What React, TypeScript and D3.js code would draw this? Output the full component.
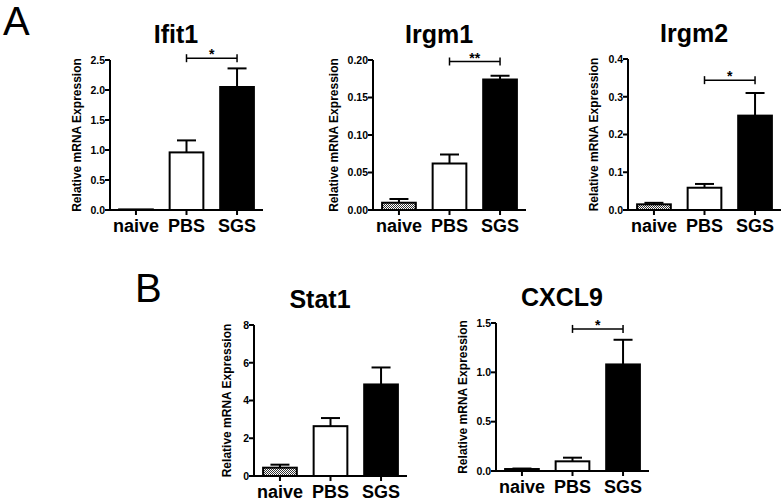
import React from "react";
import * as d3 from "d3";

const categories = ["naive", "PBS", "SGS"];

const titles = ["Ifit1", "Irgm1", "Irgm2", "Stat1", "CXCL9"];
const ifit1Mean = [0.01, 0.96, 2.05];
const ifit1Sem = [0, 0.2, 0.31];
const irgm1Mean = [0.0097, 0.062, 0.174];
const irgm1Sem = [0.005, 0.012, 0.005];
const irgm2Mean = [0.015, 0.059, 0.25];
const irgm2Sem = [0.004, 0.01, 0.06];
const stat1Mean = [0.44, 2.64, 4.85];
const stat1Sem = [0.16, 0.43, 0.9];
const cxcl9Mean = [0.02, 0.098, 1.08];
const cxcl9Sem = [0.005, 0.037, 0.25];

const yMax = [2.5, 0.2, 0.4, 8, 1.5];
const yStep = [0.5, 0.05, 0.1, 2, 0.5];
const yFormat = [".1f", ".2f", ".1f", "d", ".1f"];
// significance: [from index, to index, bracket value, label]
const sigFrom = [1, 1, 1, null, 1];
const sigTo = [2, 2, 2, null, 2];
const sigLevel = [2.53, 0.198, 0.344, null, 1.44];
const sigLabel = ["*", "**", "*", "", "*"];

const means = [ifit1Mean, irgm1Mean, irgm2Mean, stat1Mean, cxcl9Mean];
const sems = [ifit1Sem, irgm1Sem, irgm2Sem, stat1Sem, cxcl9Sem];

// layout (not data)
const layout = [
  { x0: 110, top: 60, bottom: 210, labelOff: 29 },
  { x0: 373, top: 60, bottom: 210, labelOff: 35 },
  { x0: 628, top: 59, bottom: 210, labelOff: 30 },
  { x0: 254, top: 325, bottom: 476, labelOff: 23 },
  { x0: 496, top: 323, bottom: 471, labelOff: 29 },
];

const FONT = "'Liberation Sans', Arial, Helvetica, sans-serif";
const fills = ["url(#hatch)", "#ffffff", "#000000"];

function Panel({ i }: { i: number }) {
  const L = layout[i];
  const plotW = 153;
  const x = d3
    .scaleBand<string>()
    .domain(categories)
    .range([L.x0, L.x0 + plotW])
    .paddingInner(0.333)
    .paddingOuter(0.18);
  const y = d3.scaleLinear().domain([0, yMax[i]]).range([L.bottom, L.top]);
  const ticks = d3.range(0, yMax[i] + yStep[i] / 2, yStep[i]);
  const fmt = d3.format(yFormat[i]);
  const bw = x.bandwidth();
  const capW = 19;
  const m = means[i];
  const s = sems[i];
  return (
    <g>
      <text
        x={L.x0 + 66}
        y={L.top - 17}
        textAnchor="middle"
        fontFamily={FONT}
        fontWeight="bold"
        fontSize={25}
      >
        {titles[i]}
      </text>
      <text
        transform={`translate(${L.x0 - L.labelOff},${(L.top + L.bottom) / 2}) rotate(-90)`}
        textAnchor="middle"
        fontFamily={FONT}
        fontWeight="bold"
        fontSize={12}
      >
        Relative mRNA Expression
      </text>
      {/* bars */}
      {categories.map((c, k) => {
        const bx = x(c)!;
        const top = y(m[k]);
        const ex = bx + bw / 2;
        const etop = y(m[k] + s[k]);
        return (
          <g key={c}>
            {s[k] > 0 && (
              <g stroke="#000" strokeWidth={2}>
                <line x1={ex} x2={ex} y1={top} y2={etop} />
                <line x1={ex - capW / 2} x2={ex + capW / 2} y1={etop} y2={etop} />
              </g>
            )}
            <rect
              x={bx}
              y={top}
              width={bw}
              height={Math.max(0, L.bottom - top)}
              fill={fills[k]}
              stroke="#000"
              strokeWidth={2}
            />
          </g>
        );
      })}
      {/* y axis */}
      <line x1={L.x0} x2={L.x0} y1={L.top} y2={L.bottom} stroke="#000" strokeWidth={2} />
      {ticks.map((t) => (
        <g key={t}>
          <line x1={L.x0 - 5} x2={L.x0} y1={y(t)} y2={y(t)} stroke="#000" strokeWidth={2} />
          <text
            x={L.x0 - 5}
            y={y(t)}
            dy="0.36em"
            textAnchor="end"
            fontFamily={FONT}
            fontWeight="bold"
            fontSize={10.5}
          >
            {fmt(t)}
          </text>
        </g>
      ))}
      {/* x axis */}
      <line x1={L.x0 - 1} x2={L.x0 + plotW} y1={L.bottom} y2={L.bottom} stroke="#000" strokeWidth={2} />
      {categories.map((c) => {
        const cx = x(c)! + bw / 2;
        return (
          <g key={c}>
            <line x1={cx} x2={cx} y1={L.bottom} y2={L.bottom + 5} stroke="#000" strokeWidth={2} />
            <text
              x={cx}
              y={L.bottom + 22}
              textAnchor="middle"
              fontFamily={FONT}
              fontWeight="bold"
              fontSize={18}
            >
              {c}
            </text>
          </g>
        );
      })}
      {/* significance */}
      {sigLevel[i] !== null && (() => {
        const xa = x(categories[sigFrom[i]!])! + bw / 2;
        const xb = x(categories[sigTo[i]!])! + bw / 2;
        const yy = y(sigLevel[i]!);
        return (
          <g stroke="#000" strokeWidth={1.5}>
            <line x1={xa} x2={xb} y1={yy} y2={yy} />
            <line x1={xa} x2={xa} y1={yy - 4} y2={yy + 4} />
            <line x1={xb} x2={xb} y1={yy - 4} y2={yy + 4} />
            <text
              x={(xa + xb) / 2}
              y={yy + 1}
              stroke="none"
              textAnchor="middle"
              fontFamily={FONT}
              fontWeight="bold"
              fontSize={14}
            >
              {sigLabel[i]}
            </text>
          </g>
        );
      })()}
    </g>
  );
}

export default function App() {
  return (
    <svg
      width={784}
      height={503}
      style={{ position: "absolute", left: 0, top: 0, background: "#fff" }}
    >
      <defs>
        <pattern id="hatch" width={2} height={2} patternUnits="userSpaceOnUse">
          <rect width={2} height={2} fill="#fff" />
          <rect width={1} height={1} fill="#333" />
          <rect x={1} y={1} width={1} height={1} fill="#333" />
        </pattern>
      </defs>
      <rect width={784} height={503} fill="#fff" />
      <text x={3} y={35} fontFamily={FONT} fontSize={40}>
        A
      </text>
      <text x={135} y={302} fontFamily={FONT} fontSize={40}>
        B
      </text>
      {titles.map((_, i) => (
        <Panel key={i} i={i} />
      ))}
    </svg>
  );
}
